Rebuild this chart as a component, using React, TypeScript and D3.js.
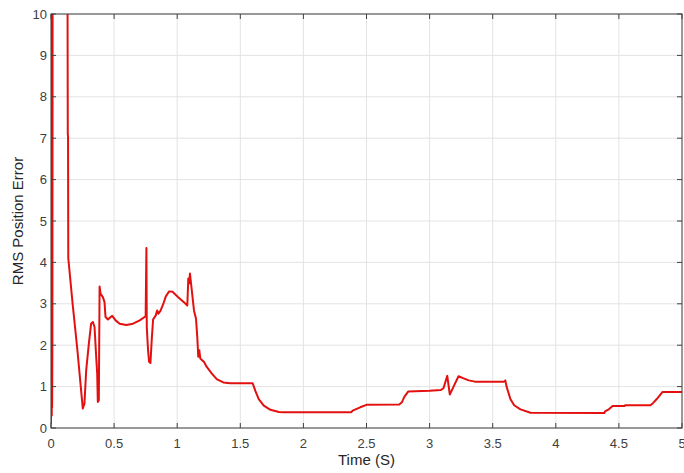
import * as d3 from "d3";

// x ticks / y ticks
const xTicks = [0, 0.5, 1, 1.5, 2, 2.5, 3, 3.5, 4, 4.5, 5];
const xTickLabels = ["0", "0.5", "1", "1.5", "2", "2.5", "3", "3.5", "4", "4.5", "5"];
const yTicks = [0, 1, 2, 3, 4, 5, 6, 7, 8, 9, 10];

// time samples (s)
const timeS = [
  0, 0.001, 0.002, 0.003, 0.004, 0.005, 0.006, 0.007, 0.009, 0.011,
  0.013, 0.13, 0.133, 0.135, 0.137, 0.172, 0.207, 0.252, 0.265, 0.279,
  0.3, 0.318, 0.332, 0.345, 0.358, 0.366, 0.371, 0.379, 0.385, 0.393,
  0.411, 0.424, 0.432, 0.451, 0.469, 0.485, 0.512, 0.544, 0.597, 0.65,
  0.703, 0.75, 0.756, 0.759, 0.769, 0.777, 0.788, 0.798, 0.809, 0.83,
  0.841, 0.851, 0.867, 0.889, 0.91, 0.936, 0.963, 1.008, 1.053, 1.08,
  1.088, 1.095, 1.101, 1.114, 1.133, 1.149, 1.159, 1.167, 1.175, 1.183,
  1.196, 1.212, 1.233, 1.273, 1.313, 1.366, 1.419, 1.5, 1.598, 1.62,
  1.646, 1.686, 1.739, 1.806, 1.84, 2.38, 2.39, 2.45, 2.5, 2.76,
  2.78, 2.8, 2.83, 3.0, 3.09, 3.11, 3.14, 3.16, 3.19, 3.229,
  3.27, 3.31, 3.36, 3.59, 3.6, 3.61, 3.64, 3.67, 3.72, 3.8,
  4.385, 4.39, 4.42, 4.45, 4.545, 4.55, 4.75, 4.77, 4.8, 4.846,
  5,
];

// RMS position error values
const rmsError = [
  0.1, 1.2, 0.3, 2.3, 0.4, 2.0, 0.3, 12, 0.5, 2.2,
  12, 12, 7.1, 7.05, 4.1, 2.98, 1.95, 0.47, 0.59, 1.4,
  2.04, 2.52, 2.56, 2.44, 1.72, 1.32, 0.63, 0.67, 3.42, 3.24,
  3.16, 3.04, 2.68, 2.62, 2.67, 2.71, 2.6, 2.52, 2.49, 2.52,
  2.6, 2.7, 4.35, 2.44, 1.88, 1.6, 1.57, 2.12, 2.62, 2.72,
  2.84, 2.76, 2.83, 2.99, 3.18, 3.3, 3.29, 3.16, 3.04, 2.96,
  3.61, 3.49, 3.73, 3.37, 2.84, 2.64, 2.2, 1.72, 1.88, 1.68,
  1.64, 1.6, 1.48, 1.32, 1.18, 1.1, 1.08, 1.08, 1.08, 0.89,
  0.7, 0.54, 0.44, 0.385, 0.38, 0.38, 0.42, 0.5, 0.56, 0.57,
  0.62, 0.75, 0.88, 0.9, 0.92, 0.96, 1.26, 0.81, 1.0, 1.25,
  1.2, 1.15, 1.12, 1.12, 1.15, 1.0, 0.7, 0.55, 0.45, 0.37,
  0.36, 0.4, 0.45, 0.53, 0.53, 0.55, 0.55, 0.6, 0.7, 0.87,
  0.87,
];

const W = 684;
const H = 473;
const left = 51;
const right = 682;
const top = 14;
const bottom = 428;

const font = "'Liberation Sans', Arial, sans-serif";

export default function App() {
  const x = d3.scaleLinear().domain([0, 5]).range([left, right]);
  const y = d3.scaleLinear().domain([0, 10]).range([bottom, top]);

  const pts: [number, number][] = timeS.map((t, i) => [t, rmsError[i]]);
  const line = d3
    .line<[number, number]>()
    .x((d) => x(d[0]))
    .y((d) => y(d[1]));

  const axisColor = "#404040";
  const gridColor = "#e3e3e3";
  const tickLen = 5;

  return (
    <svg
      width={W}
      height={H}
      style={{ position: "absolute", left: 0, top: 0, background: "#fff" }}
    >
      <defs>
        <clipPath id="plot">
          <rect x={left} y={top} width={right - left} height={bottom - top} />
        </clipPath>
      </defs>

      {/* grid */}
      {xTicks.map((t) => (
        <line key={"gx" + t} x1={x(t)} x2={x(t)} y1={top} y2={bottom} stroke={gridColor} />
      ))}
      {yTicks.map((t) => (
        <line key={"gy" + t} x1={left} x2={right} y1={y(t)} y2={y(t)} stroke={gridColor} />
      ))}

      {/* data */}
      <path
        d={line(pts) ?? ""}
        fill="none"
        stroke="#e31010"
        strokeWidth={2}
        strokeLinejoin="round"
        clipPath="url(#plot)"
      />

      {/* box + ticks */}
      <rect
        x={left}
        y={top}
        width={right - left}
        height={bottom - top}
        fill="none"
        stroke={axisColor}
        strokeWidth={1}
      />
      {xTicks.map((t) => (
        <g key={"tx" + t}>
          <line x1={x(t)} x2={x(t)} y1={bottom} y2={bottom - tickLen} stroke={axisColor} />
          <line x1={x(t)} x2={x(t)} y1={top} y2={top + tickLen} stroke={axisColor} />
        </g>
      ))}
      {yTicks.map((t) => (
        <g key={"ty" + t}>
          <line x1={left} x2={left + tickLen} y1={y(t)} y2={y(t)} stroke={axisColor} />
          <line x1={right} x2={right - tickLen} y1={y(t)} y2={y(t)} stroke={axisColor} />
        </g>
      ))}

      {/* tick labels */}
      {xTicks.map((t, i) => (
        <text
          key={"lx" + t}
          x={x(t)}
          y={448}
          textAnchor="middle"
          fontFamily={font}
          fontSize={13}
          fill="#404040"
        >
          {xTickLabels[i]}
        </text>
      ))}
      {yTicks.map((t) => (
        <text
          key={"ly" + t}
          x={47}
          y={y(t)}
          dy="0.35em"
          textAnchor="end"
          fontFamily={font}
          fontSize={13}
          fill="#404040"
        >
          {t}
        </text>
      ))}

      {/* axis titles */}
      <text
        x={(left + right) / 2}
        y={465}
        textAnchor="middle"
        fontFamily={font}
        fontSize={15}
        fill="#262626"
      >
        Time (S)
      </text>
      <text
        transform={`translate(23,${(top + bottom) / 2}) rotate(-90)`}
        textAnchor="middle"
        fontFamily={font}
        fontSize={15}
        fill="#262626"
      >
        RMS Position Error
      </text>
    </svg>
  );
}
